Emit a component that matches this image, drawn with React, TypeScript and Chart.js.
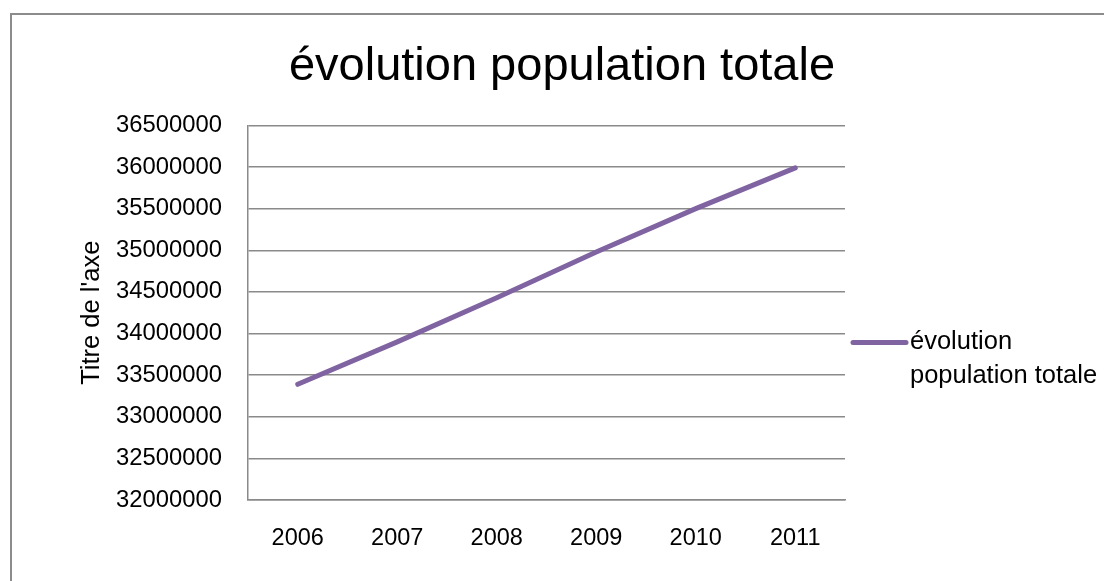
import React, { useEffect, useRef } from "react";
import { Chart, registerables } from "chart.js";

Chart.register(...registerables);

const years = ["2006", "2007", "2008", "2009", "2010", "2011"];
const population = [33390000, 33900000, 34430000, 34980000, 35500000, 35990000];
const seriesName = "évolution population totale";
const legendLines = ["évolution", "population totale"];
const chartTitle = "évolution population totale";
const axisTitle = "Titre de l'axe";
const yMin = 32000000;
const yMax = 36500000;
const yStep = 500000;

const FONT = "'Liberation Sans', Arial, sans-serif";
const LINE_COLOR = "#8064A2";
const GRID_COLOR = "#8a8a8a";

const legendPlugin = {
  id: "sideLegend",
  afterDraw(chart: any) {
    const { ctx, chartArea } = chart;
    const ds = chart.data.datasets[0];
    const x0 = chartArea.right + 8;
    const x1 = x0 + 53;
    const y0 = chartArea.top + 217;
    ctx.save();
    ctx.strokeStyle = ds.borderColor;
    ctx.lineWidth = 5;
    ctx.lineCap = "round";
    ctx.beginPath();
    ctx.moveTo(x0, y0);
    ctx.lineTo(x1, y0);
    ctx.stroke();
    ctx.fillStyle = "#000";
    ctx.font = `25.5px ${FONT}`;
    ctx.textBaseline = "middle";
    ctx.textAlign = "left";
    legendLines.forEach((t, i) => ctx.fillText(t, x1 + 4, y0 + i * 34));
    ctx.restore();
  },
};

export default function App() {
  const ref = useRef<HTMLCanvasElement>(null);
  useEffect(() => {
    if (!ref.current) return;
    const chart = new Chart(ref.current, {
      type: "line",
      data: {
        labels: years,
        datasets: [
          {
            label: seriesName,
            data: population,
            borderColor: LINE_COLOR,
            backgroundColor: LINE_COLOR,
            borderWidth: 5,
            borderCapStyle: "round",
            pointRadius: 0,
            tension: 0,
          },
        ],
      },
      options: {
        responsive: false,
        animation: false,
        layout: { padding: { left: 20, right: 0, top: 0, bottom: 0 } },
        plugins: {
          legend: { display: false },
          tooltip: { enabled: false },
          title: {
            display: true,
            text: chartTitle,
            color: "#000",
            font: { family: FONT, size: 47, weight: "normal" },
            padding: { top: 39, bottom: 30 },
          },
        },
        scales: {
          x: {
            offset: true,
            grid: { display: false, drawTicks: false },
            border: { display: true, color: GRID_COLOR, width: 1.5 },
            ticks: {
              color: "#000",
              font: { family: FONT, size: 23.5 },
              padding: 24,
              maxRotation: 0,
            },
            afterFit: (s: any) => {
              s.height = 81;
            },
          },
          y: {
            min: yMin,
            max: yMax,
            grid: { color: GRID_COLOR, lineWidth: 1.5, drawTicks: false },
            border: { display: true, color: GRID_COLOR, width: 1.5 },
            ticks: {
              stepSize: yStep,
              color: "#000",
              font: { family: FONT, size: 23.8 },
              padding: 26,
              callback: (v: any) => String(v),
            },
            title: {
              display: true,
              text: axisTitle,
              color: "#000",
              font: { family: FONT, size: 25.5 },
              padding: { top: 57, bottom: 0 },
            },
            afterFit: (s: any) => {
              s.width = 228;
            },
          },
          legendSpace: {
            type: "linear",
            position: "right",
            display: true,
            grid: { display: false, drawTicks: false },
            border: { display: false },
            ticks: { display: false },
            afterFit: (s: any) => {
              s.width = 259;
            },
          },
        },
      },
      plugins: [legendPlugin],
    });
    return () => chart.destroy();
  }, []);

  return (
    <div style={{ position: "fixed", left: 0, top: 0, width: 1104, height: 581, overflow: "hidden", background: "#fff" }}>
      <div
        style={{
          position: "absolute",
          left: 10,
          top: 13,
          width: 1200,
          height: 700,
          border: "2px solid #8c8c8c",
          boxSizing: "border-box",
        }}
      />
      <canvas ref={ref} width={1104} height={581} style={{ position: "absolute", left: 0, top: 0, display: "block" }} />
    </div>
  );
}
